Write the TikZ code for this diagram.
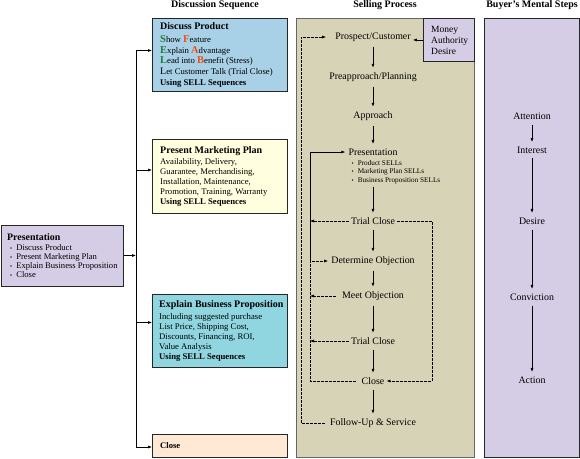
\documentclass[tikz,border=0pt]{standalone}
\usepackage{fontspec}
\setmainfont{Liberation Serif}
\usetikzlibrary{arrows.meta}
\definecolor{cblue}{RGB}{168,208,230}
\definecolor{cyellow}{RGB}{255,255,224}
\definecolor{clav}{RGB}{213,205,229}
\definecolor{cteal}{RGB}{143,214,224}
\definecolor{cpeach}{RGB}{255,232,212}
\definecolor{ckhaki}{RGB}{215,211,183}
\definecolor{cgreen}{RGB}{30,125,55}
\definecolor{corange}{RGB}{235,80,25}
\newcommand\gi[1]{{\color{cgreen}\bfseries\fontsize{10.5}{10}\selectfont #1}}
\newcommand\oi[1]{{\color{corange}\bfseries\fontsize{10.5}{10}\selectfont #1}}
\newcommand\bul{{\fontsize{6}{6}\selectfont\textbullet}\hspace{4pt}}
\begin{document}
\begin{tikzpicture}[x=1pt,y=-1pt,
  box/.style={draw=black!85, line width=0.9pt, anchor=north west, inner sep=0pt},
  panel/.style={draw=black!60, line width=1pt, anchor=north west, inner sep=0pt},
  txt/.style={anchor=west, align=left, inner sep=0pt, font=\fontsize{8.7}{10}\selectfont},
  head/.style={font=\bfseries\fontsize{10}{11}\selectfont, inner sep=0pt},
  sp/.style={font=\fontsize{9.9}{11}\selectfont, inner sep=2pt},
  arr/.style={-{Latex[length=4pt,width=3pt]}, line width=0.65pt},
  varr/.style={arr, shorten <=3pt, shorten >=2.5pt},
  dsh/.style={dash pattern=on 2.5pt off 1.5pt, line width=0.55pt},
]
\useasboundingbox (0,0) rectangle (580,458);

% panels
\node[panel, fill=ckhaki, minimum width=178pt, minimum height=439pt] (spp) at (296,18) {};
\node[panel, draw=black!85, fill=clav, minimum width=95pt, minimum height=439pt] (bmp) at (484,18) {};
\node[box, fill=clav, minimum width=51pt, minimum height=43pt] (mad) at (423,18) {};
\node[txt, font=\fontsize{9.5}{11}\selectfont] (madt) at ([xshift=8pt]mad.west) {Money\\Authority\\Desire};

% headings
\node[head] (h1) at (215,5) {Discussion Sequence};
\node[head] (h2) at (385,5) {Selling Process};
\node[head] (h3) at (532,5) {Buyer's Mental Steps};

% discussion sequence boxes
\node[box, fill=cblue, minimum width=135pt, minimum height=73pt] (dp) at (152,18) {};
\node[txt, font=\fontsize{8.7}{10.8}\selectfont] (dpt) at ([xshift=8pt]dp.west)
 {\textbf{\fontsize{10}{10}\selectfont Discuss Product}\\[2pt]
  \gi{S}how \oi{F}eature\\
  \gi{E}xplain \oi{A}dvantage\\
  \gi{L}ead into \oi{B}enefit (Stress)\\
  {\fontsize{10}{10}\selectfont L}et Customer Talk (Trial Close)\\
  \textbf{Using SELL Sequences}};

\node[box, fill=cyellow, minimum width=135pt, minimum height=74pt] (pmp) at (152,139) {};
\node[txt] (pmpt) at ([xshift=8pt]pmp.west)
 {\textbf{\fontsize{10}{10}\selectfont Present Marketing Plan}\\[1.5pt]
  Availability, Delivery,\\
  Guarantee, Merchandising,\\
  Installation, Maintenance,\\
  Promotion, Training, Warranty\\
  \textbf{Using SELL Sequences}};

\node[box, fill=cteal, minimum width=135pt, minimum height=73pt] (ebp) at (152,294) {};
\node[txt] (ebpt) at ([xshift=7pt]ebp.west)
 {\textbf{\fontsize{10}{10}\selectfont Explain Business Proposition}\\[1.5pt]
  Including suggested purchase\\
  List Price, Shipping Cost,\\
  Discounts, Financing, ROI,\\
  Value Analysis\\
  \textbf{Using SELL Sequences}};

\node[box, fill=cpeach, minimum width=135pt, minimum height=23pt] (cl) at (152,434) {};
\node[txt, font=\bfseries\fontsize{8.6}{9}\selectfont] (clt) at ([xshift=8pt]cl.west) {Close};

\node[box, fill=clav, minimum width=122.5pt, minimum height=61pt] (pres) at (0.5,225) {};
\node[txt, font=\fontsize{8.6}{9.3}\selectfont] (prest) at ([xshift=6.5pt]pres.west)
 {\textbf{\fontsize{9.9}{10}\selectfont Presentation}\\
  \hspace*{3pt}\bul Discuss Product\\
  \hspace*{3pt}\bul Present Marketing Plan\\
  \hspace*{3pt}\bul Explain Business Proposition\\
  \hspace*{3pt}\bul Close};

% tree
\coordinate (t1) at (136,50.5);
\coordinate (t2) at (136,170);
\coordinate (tp) at (136,255.5);
\coordinate (t3) at (136,322.5);
\coordinate (t4) at (136,447);
\draw[line width=0.8pt] (t1) -- (t4);
\draw[arr] (t1) -- (t1 -| dp.west);
\draw[arr] (t2) -- (t2 -| pmp.west);
\draw[arr] (t3) -- (t3 -| ebp.west);
\draw[arr] (t4) -- (t4 -| cl.west);
\draw[arr] (pres.east |- tp) -- (tp);

% selling process
\node[sp] (s1) at (373,37) {Prospect/Customer};
\node[sp] (s2) at (373,77) {Preapproach/Planning};
\node[sp] (s3) at (373,116) {Approach};
\node[sp] (s4) at (373,152) {Presentation};
\node[txt, font=\fontsize{7.2}{8.4}\selectfont] (s4b) at (351.5,172)
 {\bul Product SELLs\\ \bul Marketing Plan SELLs\\ \bul Business Proposition SELLs};
\node[sp] (s5) at (373,221) {Trial Close};
\node[sp] (s6) at (373,261) {Determine Objection};
\node[sp] (s7) at (373,296) {Meet Objection};
\node[sp] (s8) at (373,341) {Trial Close};
\node[sp] (s9) at (373,381) {Close};
\node[sp] (s10) at (373,423) {Follow-Up \& Service};

\draw[varr] (s1) -- (s2);
\draw[varr] (s2) -- (s3);
\draw[varr] (s3) -- (s4);
\draw[varr] (s4b.south -| s5) -- (s5);
\draw[varr] (s5) -- (s6);
\draw[varr] (s6) -- (s7);
\draw[varr] (s7) -- (s8);
\draw[varr] (s8) -- (s9);
\draw[varr] (s9) -- (s10);

\draw[arr] (mad.west) -- (mad.west -| s1.east);

\coordinate (ox) at (301,0);
\coordinate (ix) at (310,0);
\coordinate (rx) at (432,0);
\draw[dsh, arr, shorten <=3pt, shorten >=7pt] (s10.west) -- (s10.west -| ox) -- (s1.west -| ox) -- (s1.west);
\draw[arr, shorten >=1pt] (s6.west -| ix) -- (s4.west -| ix) -- (s4.west);
\draw[dsh, arr, shorten <=4pt, shorten >=1pt] (s9.west) -- (s9.west -| ix) -- (s6.west -| ix) -- (s6.west);
\draw[dsh, arr] (s5.west) -- (s5.west -| ix);
\draw[dsh, arr, shorten <=4pt] (s7.west) -- (s7.west -| ix);
\draw[dsh, arr] (s8.west) -- (s8.west -| ix);
\draw[dsh, arr] (s5.east) -- (s5.east -| rx) -- (s9.east -| rx) -- (s9.east);

% buyer's mental steps
\node[sp] (m1) at (532,116) {Attention};
\node[sp] (m2) at (532,150) {Interest};
\node[sp] (m3) at (532,221) {Desire};
\node[sp] (m4) at (532,297) {Conviction};
\node[sp] (m5) at (532,380) {Action};
\draw[varr] (m1) -- (m2);
\draw[varr] (m2) -- (m3);
\draw[varr] (m3) -- (m4);
\draw[varr] (m4) -- (m5);
\end{tikzpicture}
\end{document}
